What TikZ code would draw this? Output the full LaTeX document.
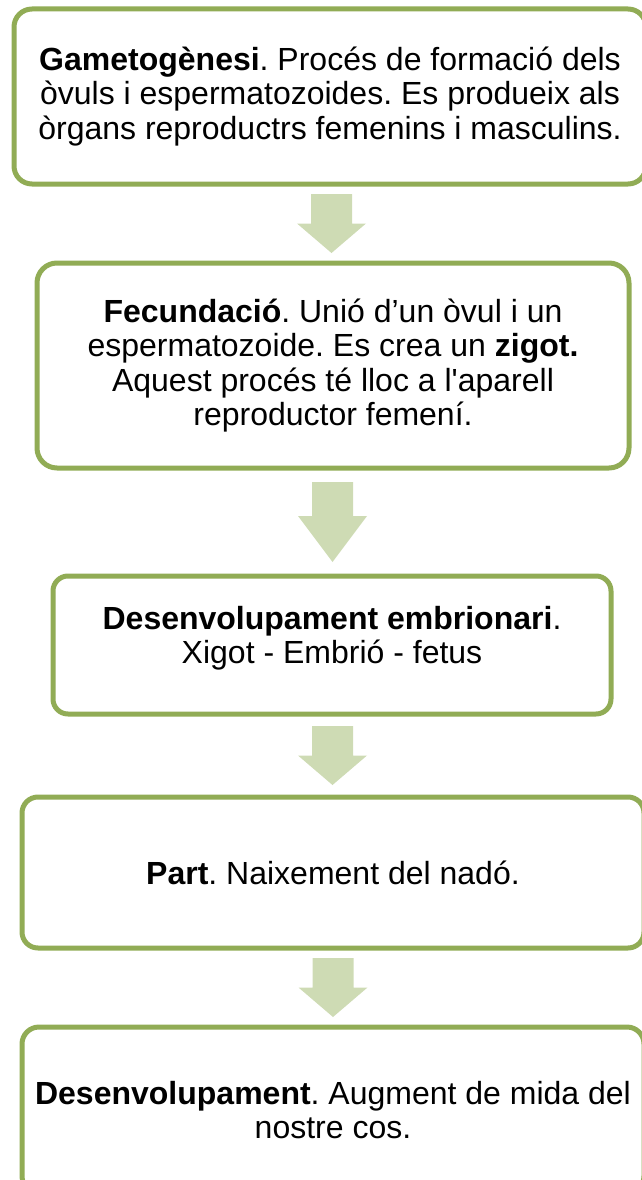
\documentclass[tikz,border=0pt]{standalone}
\usepackage{fontspec}
\setmainfont{Liberation Sans}
\usetikzlibrary{calc}
\definecolor{boxline}{RGB}{145,172,85}
\definecolor{arrowfill}{RGB}{206,219,180}
\tikzset{
  stagebox/.style={draw=boxline, line width=5pt, fill=white, inner sep=0pt,
    align=center, font=\fontsize{32}{34.5}\selectfont\frenchspacing},
  stagetext/.style={inner sep=0pt, align=center, font=\fontsize{32}{34.5}\selectfont\frenchspacing},
  downarr/.pic={\fill[arrowfill] (-20.5,-29.5) -- (20.5,-29.5) -- (20.5,0) -- (34.5,0)
      -- (0,29.5) -- (-34.5,0) -- (-20.5,0) -- cycle;},
  tallarr/.pic={\fill[arrowfill] (-20.5,-40) -- (20.5,-40) -- (20.5,-6) -- (34.5,-6)
      -- (0,40) -- (-34.5,-6) -- (-20.5,-6) -- cycle;}
}
\begin{document}
\begin{tikzpicture}[x=1pt,y=-1pt]
\useasboundingbox (0,0) rectangle (641,1180);
\node[stagebox, rounded corners=18pt, minimum width=632pt, minimum height=175pt] (b1) at (330,96.5)
  {\textbf{Gametogènesi}. Procés de formació dels\\òvuls i espermatozoides. Es produeix als\\òrgans reproductrs femenins i masculins.};
\node[stagebox, rounded corners=20pt, minimum width=592pt, minimum height=205pt] (b2) at (333,365.5)
  {\textbf{Fecundació}. Unió d’un òvul i un\\espermatozoide. Es crea un \textbf{zigot.}\\Aquest procés té lloc a l\textquotesingle aparell\\reproductor femení.};
\node[stagebox, rounded corners=15pt, minimum width=558pt, minimum height=138pt] (b3) at (332,645) {};
\node[stagetext] (b3t) at ($(b3.center)+(0,-7)$)
  {\textbf{Desenvolupament embrionari}.\\Xigot - Embrió - fetus};
\node[stagebox, rounded corners=16pt, minimum width=622pt, minimum height=151pt] (b4) at (333,872.5)
  {\textbf{Part}. Naixement del nadó.};
\node[stagebox, rounded corners=17pt, minimum width=622pt, minimum height=166pt] (b5) at (333,1110)
  {\textbf{Desenvolupament}. Augment de mida del\\nostre cos.};
\coordinate (a1) at ($(b1.south)!0.5!(b2.north)$);
\coordinate (a2) at ($(b2.south)!0.5!(b3.north)$);
\coordinate (a3) at ($(b3.south)!0.5!(b4.north)$);
\coordinate (a4) at ($(b4.south)!0.5!(b5.north)$);
\pic at (a1) {downarr};
\pic at (a2) {tallarr};
\pic at (a3) {downarr};
\pic at (a4) {downarr};
\end{tikzpicture}
\end{document}
